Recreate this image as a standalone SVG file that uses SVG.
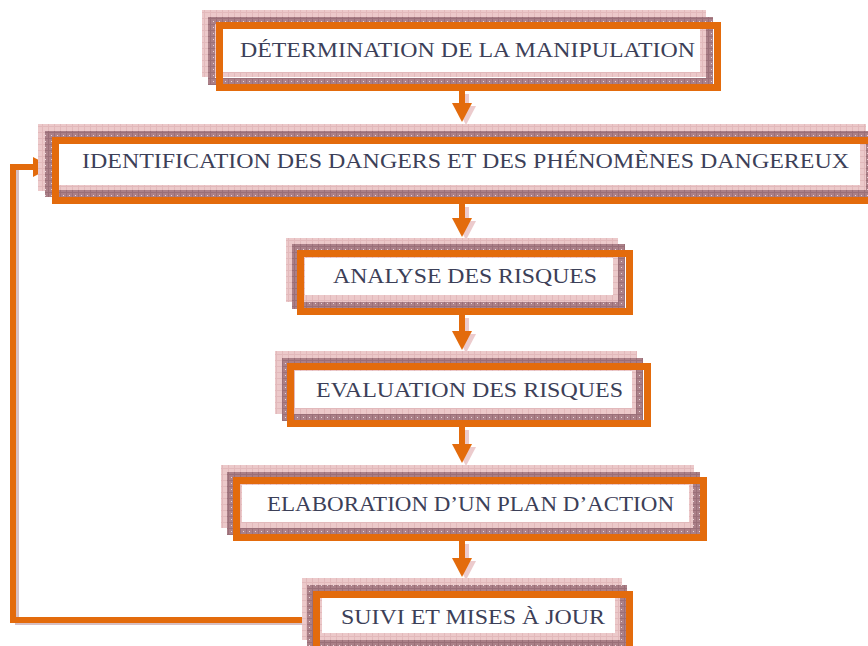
<svg xmlns="http://www.w3.org/2000/svg" width="868" height="646" viewBox="0 0 868 646">
<style>
.pk{fill:url(#pk)}
.mv{fill:none;stroke:url(#mv);stroke-width:7}
.wh{fill:#ffffff}
.or{fill:none;stroke:#e36b0c;stroke-width:7}
.tx{font-family:"Liberation Serif","DejaVu Serif",serif;font-size:22px;fill:#3c4058}
.ln{fill:none;stroke:#e36b0c;stroke-width:6}
.sh{fill:none;stroke:#b48a91;stroke-width:4;opacity:.55}
</style>
<defs>
<pattern id="pk" width="6" height="6" patternUnits="userSpaceOnUse">
<rect width="6" height="6" fill="#ecc9ca"/>
<path d="M0 0.5H6M0.5 0V6" stroke="#e2b9bb" stroke-width="1"/>
</pattern>
<pattern id="mv" width="6" height="6" patternUnits="userSpaceOnUse">
<rect width="6" height="6" fill="#ab8088"/>
<path d="M0 0.5H6M0.5 0V6" stroke="#9a6f78" stroke-width="1"/>
<rect x="3" y="3" width="1" height="1" fill="#e8d6d9"/>
</pattern>
<marker id="ah" viewBox="0 0 20 20" markerUnits="userSpaceOnUse" markerWidth="20" markerHeight="20" refX="0" refY="10" orient="auto">
<path d="M0 0L19 10L0 20Z" fill="#e36b0c"/>
</marker>
<marker id="ahs" viewBox="0 0 20 20" markerUnits="userSpaceOnUse" markerWidth="20" markerHeight="20" refX="0" refY="10" orient="auto">
<path d="M0 0L19 10L0 20Z" fill="#e8bfc1"/>
</marker>
</defs>

<g id="connectors">
<g opacity="0.8">
<path d="M466 94V106" stroke="#e8bfc1" stroke-width="6" marker-end="url(#ahs)"/>
<path d="M466 207V221" stroke="#e8bfc1" stroke-width="6" marker-end="url(#ahs)"/>
<path d="M466 318V334" stroke="#e8bfc1" stroke-width="6" marker-end="url(#ahs)"/>
<path d="M466 430V447" stroke="#e8bfc1" stroke-width="6" marker-end="url(#ahs)"/>
<path d="M466 544V561" stroke="#e8bfc1" stroke-width="6" marker-end="url(#ahs)"/>
</g>
<path class="sh" d="M317 623H17V170"/>
<path class="ln" d="M462 91V103" marker-end="url(#ah)"/>
<path class="ln" d="M462 204V218" marker-end="url(#ah)"/>
<path class="ln" d="M462 315V331" marker-end="url(#ah)"/>
<path class="ln" d="M462 427V444" marker-end="url(#ah)"/>
<path class="ln" d="M462 541V558" marker-end="url(#ah)"/>
<path class="ln" d="M318 620H13V167H33" stroke-linejoin="miter" marker-end="url(#ah)"/>
</g>

<g id="n1">
<rect class="pk" x="202" y="10" width="504" height="67"/>
<rect class="mv" x="211.5" y="20.5" width="498" height="61"/>
<rect class="wh" x="223" y="29" width="477" height="43"/>
<rect class="or" x="219.5" y="25.5" width="498" height="62"/>
<text class="tx" x="240" y="57" textLength="455" lengthAdjust="spacingAndGlyphs">DÉTERMINATION DE LA MANIPULATION</text>
</g>

<g id="n2">
<rect class="pk" x="38" y="124" width="828" height="67"/>
<rect class="mv" x="48.5" y="134.5" width="821" height="59"/>
<rect class="wh" x="59" y="144" width="801" height="41"/>
<rect class="or" x="55.5" y="140.5" width="821" height="60"/>
<text class="tx" x="82" y="168" textLength="767" lengthAdjust="spacingAndGlyphs">IDENTIFICATION DES DANGERS ET DES PHÉNOMÈNES DANGEREUX</text>
</g>

<g id="n3">
<rect class="pk" x="286" y="238" width="332" height="64"/>
<rect class="mv" x="295.5" y="247.5" width="326" height="58"/>
<rect class="wh" x="305" y="258" width="308" height="37"/>
<rect class="or" x="300.5" y="253.5" width="329" height="58"/>
<text class="tx" x="333" y="283" textLength="264" lengthAdjust="spacingAndGlyphs">ANALYSE DES RISQUES</text>
</g>

<g id="n4">
<rect class="pk" x="275" y="351" width="362" height="63"/>
<rect class="mv" x="285.5" y="361.5" width="354" height="56"/>
<rect class="wh" x="295" y="371" width="337" height="37"/>
<rect class="or" x="290.5" y="366.5" width="357" height="57"/>
<text class="tx" x="316" y="397" textLength="307" lengthAdjust="spacingAndGlyphs">EVALUATION DES RISQUES</text>
</g>

<g id="n5">
<rect class="pk" x="221" y="465" width="473" height="63"/>
<rect class="mv" x="230.5" y="475.5" width="466" height="56"/>
<rect class="wh" x="242" y="485" width="447" height="37"/>
<rect class="or" x="236.5" y="480.5" width="467" height="57"/>
<text class="tx" x="267" y="511" textLength="407" lengthAdjust="spacingAndGlyphs">ELABORATION D’UN PLAN D’ACTION</text>
</g>

<g id="n6">
<rect class="pk" x="302" y="578" width="320" height="62"/>
<rect class="mv" x="310.5" y="588.5" width="313" height="55"/>
<rect class="wh" x="322" y="598" width="293" height="35"/>
<rect class="or" x="316.5" y="594.5" width="313" height="57"/>
<text class="tx" x="341" y="624" textLength="264" lengthAdjust="spacingAndGlyphs">SUIVI ET MISES À JOUR</text>
</g>
</svg>
